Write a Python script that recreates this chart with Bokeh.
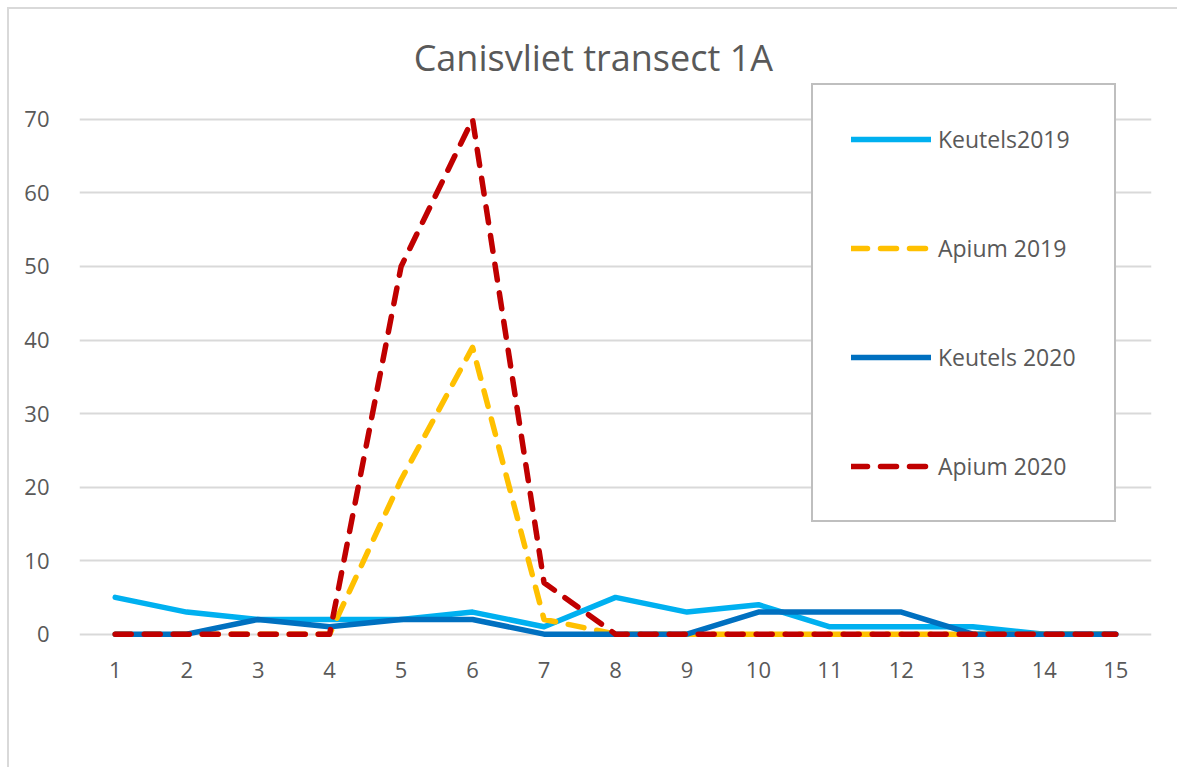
from bokeh.plotting import figure
from bokeh.models import Legend, LegendItem, FixedTicker, Range1d, Label
from bokeh.embed import file_html
from bokeh.resources import INLINE

x = list(range(1, 16))
keutels_2019 = [5, 3, 2, 2, 2, 3, 1, 5, 3, 4, 1, 1, 1, 0, 0]
apium_2019 = [0, 0, 0, 0, 21, 39, 2, 0, 0, 0, 0, 0, 0, 0, 0]
keutels_2020 = [0, 0, 2, 1, 2, 2, 0, 0, 0, 3, 3, 3, 0, 0, 0]
apium_2020 = [0, 0, 0, 0, 50, 70, 7, 0, 0, 0, 0, 0, 0, 0, 0]
series_names = ["Keutels2019", "Apium 2019", "Keutels 2020", "Apium 2020"]
y_ticks = [0, 10, 20, 30, 40, 50, 60, 70]
title_text = "Canisvliet transect 1A"

FONT = "Open Sans"
TXT = "#595959"

p = figure(width=1170, height=760, output_backend="svg", toolbar_location=None,
           x_range=Range1d(0.5, 15.5), y_range=Range1d(-1, 81),
           min_border_left=70, min_border_right=28, min_border_top=29, min_border_bottom=128)
p.styles = {"border-left": "2px solid #d9d9d9", "border-top": "2px solid #d9d9d9",
            "margin-left": "7px", "margin-top": "7px"}
p.outline_line_color = None
p.background_fill_color = "white"
p.border_fill_color = "white"

p.xgrid.grid_line_color = None
p.ygrid.grid_line_color = "#d9d9d9"
p.ygrid.grid_line_width = 2
p.yaxis.ticker = FixedTicker(ticks=y_ticks)
p.xaxis.ticker = FixedTicker(ticks=x)
for ax in (p.xaxis, p.yaxis):
    ax.axis_line_color = None
    ax.major_tick_line_color = None
    ax.minor_tick_line_color = None
    ax.major_label_text_font = FONT
    ax.major_label_text_font_size = "22px"
    ax.major_label_text_color = TXT
p.xaxis.major_label_standoff = 14
p.yaxis.major_label_standoff = 24

styles = [
    dict(color="#00B0F0", dash="solid"),
    dict(color="#FFC000", dash="16 13"),
    dict(color="#0070C0", dash="solid"),
    dict(color="#C00000", dash="16 13"),
]
data = [keutels_2019, apium_2019, keutels_2020, apium_2020]
items = []
for name, ys, st in zip(series_names, data, styles):
    r = p.line(x, ys, line_color=st["color"], line_width=5.5, line_dash=st["dash"],
               line_cap="round", line_join="round")
    items.append(LegendItem(label=name, renderers=[r]))

legend = Legend(items=items, location=(732, 119), orientation="vertical",
                glyph_width=80, glyph_height=30, label_height=30, label_standoff=7,
                spacing=77, padding=38, margin=0,
                label_text_font=FONT, label_text_font_size="23px", label_text_color=TXT,
                border_line_color="#7f7f7f", border_line_width=2,
                background_fill_color="white", background_fill_alpha=1.0)
p.add_layout(legend, "center")

p.add_layout(Label(x=7.69, y=78.4, text=title_text, text_align="center",
                   text_baseline="alphabetic", text_font=FONT, text_font_size="36px",
                   text_color=TXT))

open("out.html", "w").write(file_html(p, INLINE))
